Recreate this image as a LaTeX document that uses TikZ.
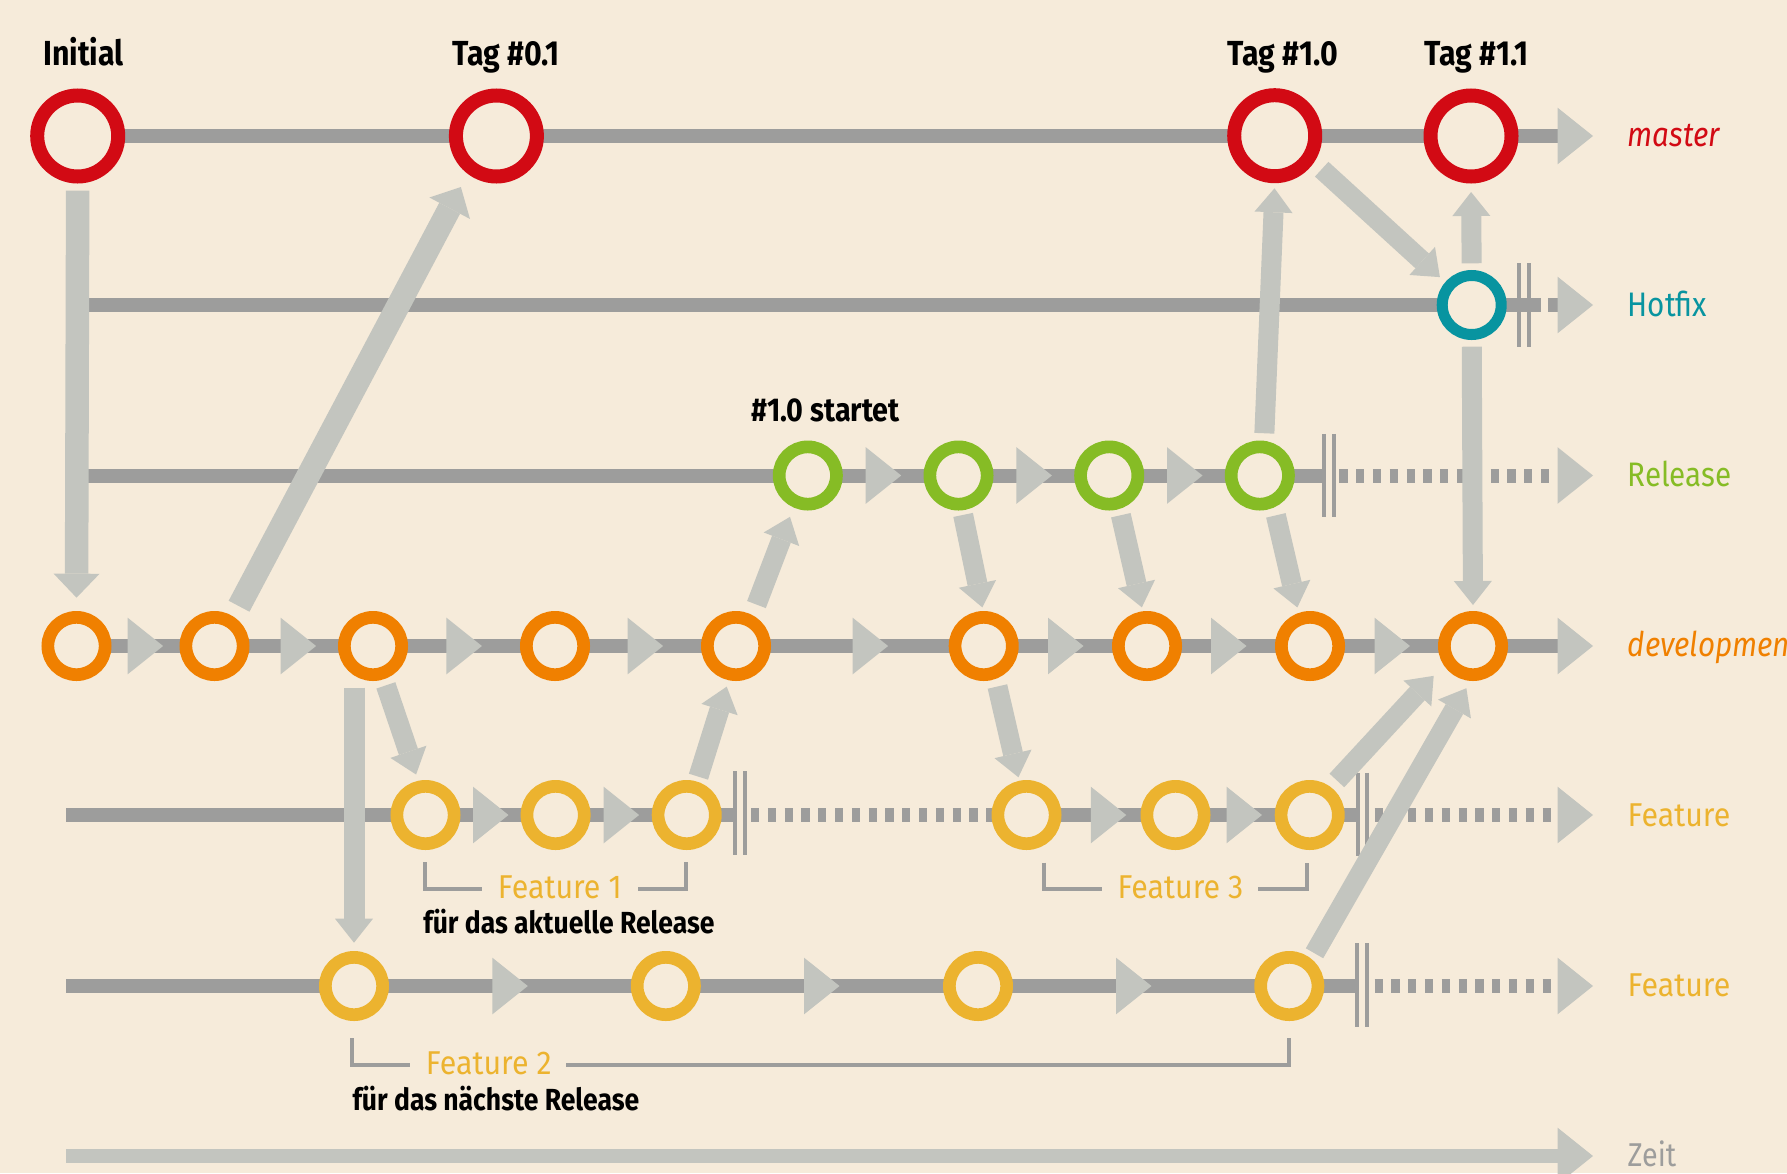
\documentclass[tikz,border=0pt]{standalone}
\usepackage{fontspec}
\setmainfont{Fira Sans}[FakeStretch=0.87]
\newfontfamily\widefont{Fira Sans}[FakeStretch=0.92]
\usetikzlibrary{arrows.meta,calc}
\definecolor{bgc}{HTML}{F6EBDA}
\definecolor{linegray}{HTML}{9D9D9C}
\definecolor{arrgray}{HTML}{C3C5BF}
\definecolor{cred}{HTML}{D20A14}
\definecolor{cteal}{HTML}{0894A0}
\definecolor{cgreen}{HTML}{86BC25}
\definecolor{corange}{HTML}{F08000}
\definecolor{cyellow}{HTML}{ECB32F}
\begin{document}
\begin{tikzpicture}[x=1pt,y=-1pt,
  track/.style={draw=linegray,line width=14pt},
  dotted track/.style={draw=linegray,line width=14pt,dash pattern=on 8.2pt off 8.6pt},
  endbar/.style={draw=linegray,line width=4pt},
  bracket/.style={draw=linegray,line width=4pt,line join=miter},
  bigc/.style={circle,draw=cred,fill=bgc,line width=14pt,minimum size=81pt,inner sep=0pt,outer sep=7pt},
  smallc/.style={circle,fill=bgc,line width=12.7pt,minimum size=57.3pt,inner sep=0pt,outer sep=6.35pt},
  devc/.style={smallc,draw=corange},
  relc/.style={smallc,draw=cgreen},
  featc/.style={smallc,draw=cyellow},
  hotc/.style={circle,fill=bgc,draw=cteal,line width=11pt,minimum size=59pt,inner sep=0pt,outer sep=5.5pt},
  merge/.style={draw=arrgray,line width=20pt,-{Triangle[length=24pt,width=38pt,line width=0pt]}},
  mergebig/.style={draw=arrgray,line width=23.5pt,-{Triangle[length=24pt,width=46pt,line width=0pt]}},
  tri/.pic={\fill[arrgray] (0,-28.35) -- (35.5,0) -- (0,28.35) -- cycle;},
  toplbl/.style={inner sep=0pt,anchor=base,font=\fontsize{34.8pt}{40pt}\selectfont\bfseries},
  notelbl/.style={inner sep=0pt,anchor=base,font=\fontsize{30.5pt}{36pt}\selectfont\bfseries},
  featlbl/.style={inner sep=0pt,anchor=base,text=cyellow,font=\widefont\fontsize{33pt}{38pt}\selectfont},
  branchlbl/.style={inner sep=0pt,anchor=base west,font=\fontsize{34pt}{40pt}\selectfont}
]
\useasboundingbox (0,0) rectangle (1787,1173);
\clip (0,0) rectangle (1787,1173);
\fill[bgc] (0,0) rectangle (1787,1173);

% ---------- track coordinates ----------
\coordinate (mS) at (77.7,136);   \coordinate (mE) at (1557.5,136);
\coordinate (hS) at (78,305);     \coordinate (hA) at (1541,305);
\coordinate (hB) at (1548,305);   \coordinate (hE) at (1557.5,305);
\coordinate (rS) at (78,475.5);   \coordinate (rA) at (1321.8,475.5);
\coordinate (rB) at (1339.3,475.5); \coordinate (rE) at (1550.5,475.5);
\coordinate (dS) at (76.5,646);   \coordinate (dE) at (1557.5,646);
\coordinate (aS) at (66,815);     \coordinate (aA) at (733,815);
\coordinate (aB) at (751,815);    \coordinate (aC) at (992,815);
\coordinate (aD) at (1356,815);   \coordinate (aF) at (1374.5,815);
\coordinate (aE) at (1551.3,815);
\coordinate (bS) at (66,986);     \coordinate (bA) at (1354.5,986);
\coordinate (bB) at (1374.5,986); \coordinate (bE) at (1551.3,986);
\coordinate (zS) at (66,1156);    \coordinate (zE) at (1557.5,1156);

% ---------- tracks ----------
\draw[track] (mS) -- (mE);
\draw[track] (hS) -- (hA);
\draw[track] (hB) -- (hE);
\draw[track] (rS) -- (rA);
\draw[dotted track] (rB) -- (rE);
\draw[track] (dS) -- (dE);
\draw[track] (aS) -- (aA);
\draw[dotted track] (aB) -- (aC);
\draw[track] (aC) -- (aD);
\draw[dotted track] (aF) -- (aE);
\draw[track] (bS) -- (bA);
\draw[dotted track] (bB) -- (bE);
\draw[draw=arrgray,line width=13.5pt] (zS) -- (zE);

% ---------- end bars ----------
\foreach \x/\y in {1518.9/305,1529/305,1323.9/475.5,1334.4/475.5,735/813,745/813,1357.6/814.5,1367.3/814.5,1356.8/985,1366.5/985}
  \draw[endbar] (\x,\y-41.7) -- (\x,\y+41.7);

% ---------- direction triangles ----------
\foreach \x/\y in {1557.5/136,1557.5/305,1557.5/475.5,865.7/475.5,1016.4/475.5,1167/475.5,
  127.6/646,280.6/646,446.4/646,627.6/646,852.6/646,1048/646,1211/646,1374.5/646,1557.5/646,
  473/815,603.6/815,1090.8/815,1226.5/815,1557.5/815,
  492.3/986,804/986,1116/986,1557.5/986,1557.5/1156}
  \pic at (\x,\y) {tri};

% ---------- commits ----------
\node[bigc] (init) at (77.7,136) {};
\node[bigc] (tag01) at (496.4,136) {};
\node[bigc] (tag10) at (1274.7,135.7) {};
\node[bigc] (tag11) at (1471,136) {};
\node[hotc] (hotfix) at (1471.7,305) {};
\node[relc] (rel1) at (807.8,475.5) {};
\node[relc] (rel2) at (958.5,475.5) {};
\node[relc] (rel3) at (1109.2,475.5) {};
\node[relc] (rel4) at (1259.8,475.5) {};
\node[devc] (dev1) at (76.5,646) {};
\node[devc] (dev2) at (214.5,646) {};
\node[devc] (dev3) at (373,646) {};
\node[devc] (dev4) at (555,646) {};
\node[devc] (dev5) at (736,646) {};
\node[devc] (dev6) at (983.7,646) {};
\node[devc] (dev7) at (1147,646) {};
\node[devc] (dev8) at (1310,646) {};
\node[devc] (dev9) at (1473,646) {};
\node[featc] (f11) at (425.5,815) {};
\node[featc] (f12) at (555.6,815) {};
\node[featc] (f13) at (686.7,815) {};
\node[featc] (f14) at (1026.5,815) {};
\node[featc] (f15) at (1175.5,815) {};
\node[featc] (f16) at (1309.7,815) {};
\node[featc] (f21) at (354,986) {};
\node[featc] (f22) at (665.8,986) {};
\node[featc] (f23) at (978,986) {};
\node[featc] (f24) at (1289.3,986) {};

% ---------- merges ----------
\draw[mergebig,shorten <=7.2pt,shorten >=13.3pt] (init.south) -- (dev1.north);
\draw[mergebig,shorten <=11.8pt,shorten >=14.8pt] (dev2.57) -- (tag01.233);
\draw[merge,shorten <=10.3pt,shorten >=7.3pt] (tag10.-34) -- (hotfix.139);
\draw[merge,shorten <=6.7pt,shorten >=8.5pt] (hotfix.north) -- (tag11.south);
\draw[merge,shorten <=6.7pt,shorten >=6pt] (hotfix.south) -- (dev9.north);
\draw[merge,shorten <=7.5pt,shorten >=5.1pt] (rel4.83) -- (tag10.-90);
\draw[merge,shorten <=11.3pt,shorten >=10pt] (dev5.62) -- (rel1.-114);
\draw[merge,shorten <=4.7pt,shorten >=3.7pt] (rel2.-84) -- (dev6.91);
\draw[merge,shorten <=6.4pt,shorten >=4pt] (rel3.-73) -- (dev7.97);
\draw[merge,shorten <=8.1pt,shorten >=5.6pt] (rel4.-66) -- (dev8.109);
\draw[merge,shorten <=6.4pt,shorten >=6.6pt] (dev3.-72) -- (f11.102);
\draw[merge,line width=21pt,shorten <=6.7pt,shorten >=8.3pt] (dev3.south -| f21.north) -- (f21.north);
\draw[merge,shorten <=5.1pt,shorten >=6.7pt] (f13.73) -- (dev5.-102);
\draw[merge,shorten <=7.8pt,shorten >=3.6pt] (dev6.-70) -- (f14.102);
\draw[merge,shorten <=9pt,shorten >=14.7pt] (f16.53) -- (dev9.-147);
\draw[merge,shorten <=6.4pt,shorten >=8.4pt] (f24.51) -- (dev9.-94);

% ---------- brackets ----------
\draw[bracket] (424.7,862.3) |- (481.7,889);
\draw[bracket] (638.3,889) -| (686.3,862.3);
\draw[bracket] (1044,862.7) |- (1101.5,889.2);
\draw[bracket] (1258,889.2) -| (1307,862.7);
\draw[bracket] (352,1038.3) |- (409.7,1065);
\draw[bracket] (566.3,1065) -| (1288.6,1038.3);

% ---------- labels ----------
\node[toplbl] (lInit) at (83.4,65.7) {Initial};
\node[toplbl] (l01) at (506,65.7) {Tag \#0.1};
\node[toplbl] (l10) at (1283,65.7) {Tag \#1.0};
\node[toplbl] (l11) at (1476.5,65.7) {Tag \#1.1};
\node[toplbl,font=\fontsize{33pt}{38pt}\selectfont\bfseries] (lstart) at (825.5,421) {\#1.0 startet};
\node[featlbl] (lF1) at (559.8,898.3) {Feature 1};
\node[featlbl] (lF3) at (1180.4,898.3) {Feature 3};
\node[featlbl] (lF2) at (488.8,1074) {Feature 2};
\node[notelbl] (lN1) at (568.9,933.3) {für das aktuelle Release};
\node[notelbl] (lN2) at (495.9,1110) {für das nächste Release};

\node[branchlbl,text=cred,font=\fontsize{34pt}{40pt}\selectfont\itshape] (bm) at (1627.5,146.7) {master};
\node[branchlbl,text=cteal] (bh) at (1627.5,316.7) {Hotfix};
\node[branchlbl,text=cgreen] (br) at (1627.5,486.7) {Release};
\node[branchlbl,text=corange,font=\fontsize{34pt}{40pt}\selectfont\itshape] (bd) at (1627.5,656) {development};
\node[branchlbl,text=cyellow,font=\widefont\fontsize{33pt}{38pt}\selectfont] (bf1) at (1627.5,826) {Feature};
\node[branchlbl,text=cyellow,font=\widefont\fontsize{33pt}{38pt}\selectfont] (bf2) at (1627.5,996) {Feature};
\node[branchlbl,text=linegray,font=\fontsize{33pt}{38pt}\selectfont] (bz) at (1627.5,1166.7) {Zeit};
\end{tikzpicture}
\end{document}
